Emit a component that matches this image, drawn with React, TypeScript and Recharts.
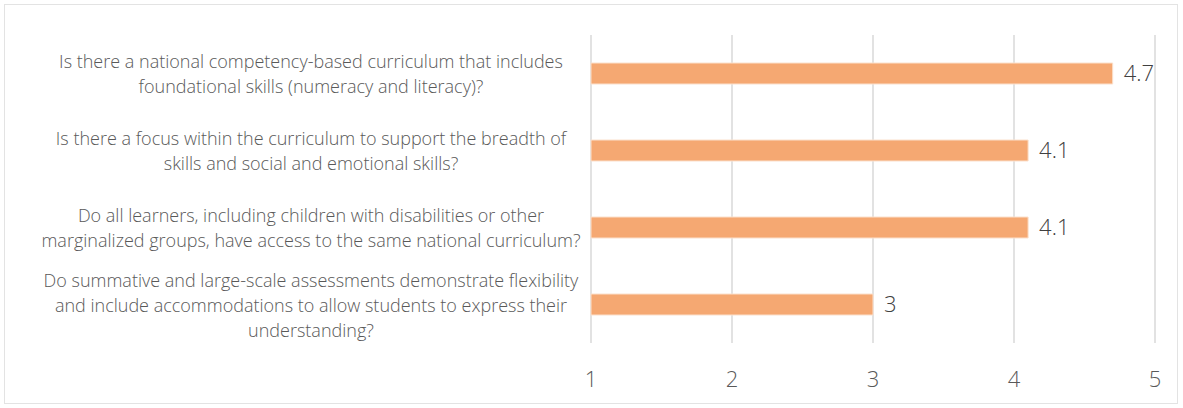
import { Bar, BarChart, CartesianGrid, LabelList, XAxis, YAxis } from "recharts";

const questions = [
  "Is there a national competency-based curriculum that includes\nfoundational skills (numeracy and literacy)?",
  "Is there a focus within the curriculum to support the breadth of\nskills and social and emotional skills?",
  "Do all learners, including children with disabilities or other\nmarginalized groups, have access to the same national curriculum?",
  "Do summative and large-scale assessments demonstrate flexibility\nand include accommodations to allow students to express their\nunderstanding?",
];
const scores = [4.7, 4.1, 4.1, 3];
const xTicks = [1, 2, 3, 4, 5];

const data = questions.map((q, i) => ({ question: q, score: scores[i] }));

const FONT = "'Open Sans', Lato, sans-serif";

function QuestionTick(props: any) {
  const { x, y, payload } = props;
  const lines: string[] = String(payload.value).split("\n");
  const lh = 25;
  const startY = y - ((lines.length - 1) * lh) / 2;
  return (
    <text
      x={x - 272}
      y={startY}
      textAnchor="middle"
      fill="#595959"
      fontSize={18}
      fontWeight={300}
      fontFamily={FONT}
      dominantBaseline="central"
    >
      {lines.map((l, i) => (
        <tspan key={i} x={x - 272} dy={i === 0 ? 0 : lh}>
          {l}
        </tspan>
      ))}
    </text>
  );
}

export default function App() {
  return (
    <div
      style={{
        position: "absolute",
        left: 0,
        top: 0,
        width: 1183,
        height: 408,
        background: "#fff",
      }}
    >
      <div
        style={{
          position: "absolute",
          left: 4,
          top: 4,
          width: 1174,
          height: 400,
          border: "1px solid #e3e3e3",
          boxSizing: "border-box",
        }}
      />
      <BarChart
        width={1183}
        height={408}
        data={data}
        layout="vertical"
        margin={{ top: 35, right: 28, left: 0, bottom: 0 }}
      >
        <CartesianGrid horizontal={false} stroke="#d9d9d9" strokeWidth={1.5} />
        <XAxis
          type="number"
          domain={[1, 5]}
          ticks={xTicks}
          axisLine={false}
          tickLine={false}
          height={65}
          tickMargin={22}
          tick={{ fill: "#595959", fontSize: 22, fontFamily: FONT, fontWeight: 300 }}
        />
        <YAxis
          type="category"
          dataKey="question"
          width={591}
          axisLine={false}
          tickLine={false}
          interval={0}
          tick={<QuestionTick />}
        />
        <Bar
          dataKey="score"
          barSize={21}
          fill="#f5a872"
          stroke="#fbe0cc"
          strokeWidth={1}
          isAnimationActive={false}
        >
          <LabelList
            dataKey="score"
            position="right"
            offset={11}
            fill="#404040"
            fontSize={22}
            fontFamily={FONT}
            fontWeight={300}
          />
        </Bar>
      </BarChart>
    </div>
  );
}
